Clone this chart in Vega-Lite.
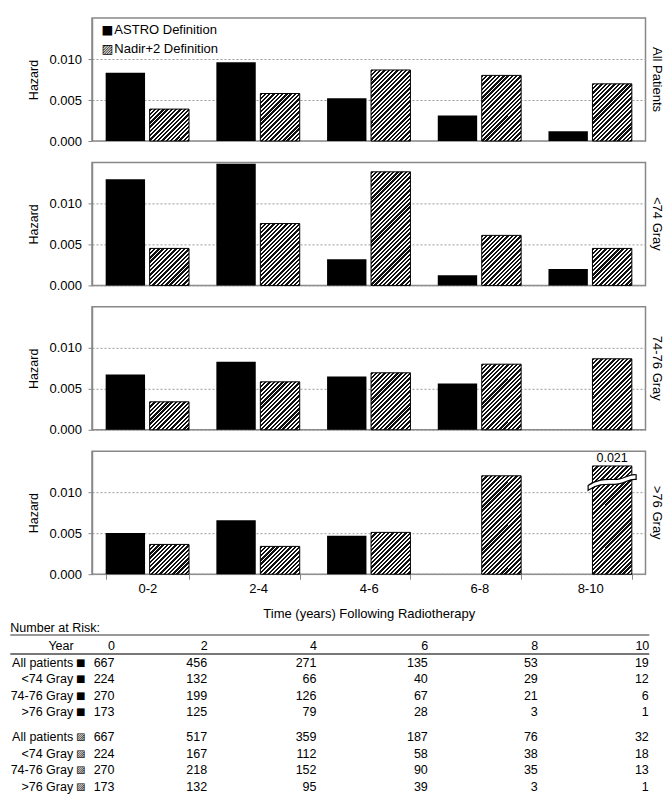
{
  "$schema": "https://vega.github.io/schema/vega-lite/v6.json",
  "padding": {"left": 9, "top": 17, "right": 5, "bottom": 0},
  "bounds": "flush",
  "spacing": 21.4,
  "params": [
    {"name": "hatch", "value": [
      {"offset":0,"color":"#111"},{"offset":0.01375,"color":"#111"},{"offset":0.01375,"color":"#fff"},{"offset":0.025,"color":"#fff"},
      {"offset":0.025,"color":"#111"},{"offset":0.03875,"color":"#111"},{"offset":0.03875,"color":"#fff"},{"offset":0.05,"color":"#fff"},
      {"offset":0.05,"color":"#111"},{"offset":0.06375,"color":"#111"},{"offset":0.06375,"color":"#fff"},{"offset":0.075,"color":"#fff"},
      {"offset":0.075,"color":"#111"},{"offset":0.08875,"color":"#111"},{"offset":0.08875,"color":"#fff"},{"offset":0.1,"color":"#fff"},
      {"offset":0.1,"color":"#111"},{"offset":0.11375,"color":"#111"},{"offset":0.11375,"color":"#fff"},{"offset":0.125,"color":"#fff"},
      {"offset":0.125,"color":"#111"},{"offset":0.13875,"color":"#111"},{"offset":0.13875,"color":"#fff"},{"offset":0.15,"color":"#fff"},
      {"offset":0.15,"color":"#111"},{"offset":0.16375,"color":"#111"},{"offset":0.16375,"color":"#fff"},{"offset":0.175,"color":"#fff"},
      {"offset":0.175,"color":"#111"},{"offset":0.18875,"color":"#111"},{"offset":0.18875,"color":"#fff"},{"offset":0.2,"color":"#fff"},
      {"offset":0.2,"color":"#111"},{"offset":0.21375,"color":"#111"},{"offset":0.21375,"color":"#fff"},{"offset":0.225,"color":"#fff"},
      {"offset":0.225,"color":"#111"},{"offset":0.23875,"color":"#111"},{"offset":0.23875,"color":"#fff"},{"offset":0.25,"color":"#fff"},
      {"offset":0.25,"color":"#111"},{"offset":0.26375,"color":"#111"},{"offset":0.26375,"color":"#fff"},{"offset":0.275,"color":"#fff"},
      {"offset":0.275,"color":"#111"},{"offset":0.28875,"color":"#111"},{"offset":0.28875,"color":"#fff"},{"offset":0.3,"color":"#fff"},
      {"offset":0.3,"color":"#111"},{"offset":0.31375,"color":"#111"},{"offset":0.31375,"color":"#fff"},{"offset":0.325,"color":"#fff"},
      {"offset":0.325,"color":"#111"},{"offset":0.33875,"color":"#111"},{"offset":0.33875,"color":"#fff"},{"offset":0.35,"color":"#fff"},
      {"offset":0.35,"color":"#111"},{"offset":0.36375,"color":"#111"},{"offset":0.36375,"color":"#fff"},{"offset":0.375,"color":"#fff"},
      {"offset":0.375,"color":"#111"},{"offset":0.38875,"color":"#111"},{"offset":0.38875,"color":"#fff"},{"offset":0.4,"color":"#fff"},
      {"offset":0.4,"color":"#111"},{"offset":0.41375,"color":"#111"},{"offset":0.41375,"color":"#fff"},{"offset":0.425,"color":"#fff"},
      {"offset":0.425,"color":"#111"},{"offset":0.43875,"color":"#111"},{"offset":0.43875,"color":"#fff"},{"offset":0.45,"color":"#fff"},
      {"offset":0.45,"color":"#111"},{"offset":0.46375,"color":"#111"},{"offset":0.46375,"color":"#fff"},{"offset":0.475,"color":"#fff"},
      {"offset":0.475,"color":"#111"},{"offset":0.48875,"color":"#111"},{"offset":0.48875,"color":"#fff"},{"offset":0.5,"color":"#fff"},
      {"offset":0.5,"color":"#111"},{"offset":0.51375,"color":"#111"},{"offset":0.51375,"color":"#fff"},{"offset":0.525,"color":"#fff"},
      {"offset":0.525,"color":"#111"},{"offset":0.53875,"color":"#111"},{"offset":0.53875,"color":"#fff"},{"offset":0.55,"color":"#fff"},
      {"offset":0.55,"color":"#111"},{"offset":0.56375,"color":"#111"},{"offset":0.56375,"color":"#fff"},{"offset":0.575,"color":"#fff"},
      {"offset":0.575,"color":"#111"},{"offset":0.58875,"color":"#111"},{"offset":0.58875,"color":"#fff"},{"offset":0.6,"color":"#fff"},
      {"offset":0.6,"color":"#111"},{"offset":0.61375,"color":"#111"},{"offset":0.61375,"color":"#fff"},{"offset":0.625,"color":"#fff"},
      {"offset":0.625,"color":"#111"},{"offset":0.63875,"color":"#111"},{"offset":0.63875,"color":"#fff"},{"offset":0.65,"color":"#fff"},
      {"offset":0.65,"color":"#111"},{"offset":0.66375,"color":"#111"},{"offset":0.66375,"color":"#fff"},{"offset":0.675,"color":"#fff"},
      {"offset":0.675,"color":"#111"},{"offset":0.68875,"color":"#111"},{"offset":0.68875,"color":"#fff"},{"offset":0.7,"color":"#fff"},
      {"offset":0.7,"color":"#111"},{"offset":0.71375,"color":"#111"},{"offset":0.71375,"color":"#fff"},{"offset":0.725,"color":"#fff"},
      {"offset":0.725,"color":"#111"},{"offset":0.73875,"color":"#111"},{"offset":0.73875,"color":"#fff"},{"offset":0.75,"color":"#fff"},
      {"offset":0.75,"color":"#111"},{"offset":0.76375,"color":"#111"},{"offset":0.76375,"color":"#fff"},{"offset":0.775,"color":"#fff"},
      {"offset":0.775,"color":"#111"},{"offset":0.78875,"color":"#111"},{"offset":0.78875,"color":"#fff"},{"offset":0.8,"color":"#fff"},
      {"offset":0.8,"color":"#111"},{"offset":0.81375,"color":"#111"},{"offset":0.81375,"color":"#fff"},{"offset":0.825,"color":"#fff"},
      {"offset":0.825,"color":"#111"},{"offset":0.83875,"color":"#111"},{"offset":0.83875,"color":"#fff"},{"offset":0.85,"color":"#fff"},
      {"offset":0.85,"color":"#111"},{"offset":0.86375,"color":"#111"},{"offset":0.86375,"color":"#fff"},{"offset":0.875,"color":"#fff"},
      {"offset":0.875,"color":"#111"},{"offset":0.88875,"color":"#111"},{"offset":0.88875,"color":"#fff"},{"offset":0.9,"color":"#fff"},
      {"offset":0.9,"color":"#111"},{"offset":0.91375,"color":"#111"},{"offset":0.91375,"color":"#fff"},{"offset":0.925,"color":"#fff"},
      {"offset":0.925,"color":"#111"},{"offset":0.93875,"color":"#111"},{"offset":0.93875,"color":"#fff"},{"offset":0.95,"color":"#fff"},
      {"offset":0.95,"color":"#111"},{"offset":0.96375,"color":"#111"},{"offset":0.96375,"color":"#fff"},{"offset":0.975,"color":"#fff"},
      {"offset":0.975,"color":"#111"},{"offset":0.98875,"color":"#111"},{"offset":0.98875,"color":"#fff"},{"offset":1,"color":"#fff"}
    ]}
  ],
  "datasets": {
    "hz": [
      {"group":"All Patients","period":"0-2","def":"ASTRO","hazard":0.00833},
      {"group":"All Patients","period":"0-2","def":"Nadir","hazard":0.00389},
      {"group":"All Patients","period":"2-4","def":"ASTRO","hazard":0.0096},
      {"group":"All Patients","period":"2-4","def":"Nadir","hazard":0.00579},
      {"group":"All Patients","period":"4-6","def":"ASTRO","hazard":0.00521},
      {"group":"All Patients","period":"4-6","def":"Nadir","hazard":0.00866},
      {"group":"All Patients","period":"6-8","def":"ASTRO","hazard":0.00312},
      {"group":"All Patients","period":"6-8","def":"Nadir","hazard":0.0080},
      {"group":"All Patients","period":"8-10","def":"ASTRO","hazard":0.00118},
      {"group":"All Patients","period":"8-10","def":"Nadir","hazard":0.00697},
      {"group":"<74 Gray","period":"0-2","def":"ASTRO","hazard":0.01295},
      {"group":"<74 Gray","period":"0-2","def":"Nadir","hazard":0.00451},
      {"group":"<74 Gray","period":"2-4","def":"ASTRO","hazard":0.01484},
      {"group":"<74 Gray","period":"2-4","def":"Nadir","hazard":0.00754},
      {"group":"<74 Gray","period":"4-6","def":"ASTRO","hazard":0.0032},
      {"group":"<74 Gray","period":"4-6","def":"Nadir","hazard":0.01385},
      {"group":"<74 Gray","period":"6-8","def":"ASTRO","hazard":0.00123},
      {"group":"<74 Gray","period":"6-8","def":"Nadir","hazard":0.0061},
      {"group":"<74 Gray","period":"8-10","def":"ASTRO","hazard":0.0020},
      {"group":"<74 Gray","period":"8-10","def":"Nadir","hazard":0.00451},
      {"group":"74-76 Gray","period":"0-2","def":"ASTRO","hazard":0.00674},
      {"group":"74-76 Gray","period":"0-2","def":"Nadir","hazard":0.00341},
      {"group":"74-76 Gray","period":"2-4","def":"ASTRO","hazard":0.00829},
      {"group":"74-76 Gray","period":"2-4","def":"Nadir","hazard":0.00585},
      {"group":"74-76 Gray","period":"4-6","def":"ASTRO","hazard":0.0065},
      {"group":"74-76 Gray","period":"4-6","def":"Nadir","hazard":0.00695},
      {"group":"74-76 Gray","period":"6-8","def":"ASTRO","hazard":0.00565},
      {"group":"74-76 Gray","period":"6-8","def":"Nadir","hazard":0.0080},
      {"group":"74-76 Gray","period":"8-10","def":"ASTRO","hazard":0},
      {"group":"74-76 Gray","period":"8-10","def":"Nadir","hazard":0.00866},
      {"group":">76 Gray","period":"0-2","def":"ASTRO","hazard":0.00502},
      {"group":">76 Gray","period":"0-2","def":"Nadir","hazard":0.00363},
      {"group":">76 Gray","period":"2-4","def":"ASTRO","hazard":0.00657},
      {"group":">76 Gray","period":"2-4","def":"Nadir","hazard":0.00339},
      {"group":">76 Gray","period":"4-6","def":"ASTRO","hazard":0.00469},
      {"group":">76 Gray","period":"4-6","def":"Nadir","hazard":0.0051},
      {"group":">76 Gray","period":"6-8","def":"ASTRO","hazard":0},
      {"group":">76 Gray","period":"6-8","def":"Nadir","hazard":0.0120},
      {"group":">76 Gray","period":"8-10","def":"ASTRO","hazard":0},
      {"group":">76 Gray","period":"8-10","def":"Nadir","hazard":0.021}
    ],
    "risk": [
      {"def":"ASTRO","group":"All patients","year":0,"n":667},{"def":"ASTRO","group":"All patients","year":2,"n":456},{"def":"ASTRO","group":"All patients","year":4,"n":271},{"def":"ASTRO","group":"All patients","year":6,"n":135},{"def":"ASTRO","group":"All patients","year":8,"n":53},{"def":"ASTRO","group":"All patients","year":10,"n":19},
      {"def":"ASTRO","group":"<74 Gray","year":0,"n":224},{"def":"ASTRO","group":"<74 Gray","year":2,"n":132},{"def":"ASTRO","group":"<74 Gray","year":4,"n":66},{"def":"ASTRO","group":"<74 Gray","year":6,"n":40},{"def":"ASTRO","group":"<74 Gray","year":8,"n":29},{"def":"ASTRO","group":"<74 Gray","year":10,"n":12},
      {"def":"ASTRO","group":"74-76 Gray","year":0,"n":270},{"def":"ASTRO","group":"74-76 Gray","year":2,"n":199},{"def":"ASTRO","group":"74-76 Gray","year":4,"n":126},{"def":"ASTRO","group":"74-76 Gray","year":6,"n":67},{"def":"ASTRO","group":"74-76 Gray","year":8,"n":21},{"def":"ASTRO","group":"74-76 Gray","year":10,"n":6},
      {"def":"ASTRO","group":">76 Gray","year":0,"n":173},{"def":"ASTRO","group":">76 Gray","year":2,"n":125},{"def":"ASTRO","group":">76 Gray","year":4,"n":79},{"def":"ASTRO","group":">76 Gray","year":6,"n":28},{"def":"ASTRO","group":">76 Gray","year":8,"n":3},{"def":"ASTRO","group":">76 Gray","year":10,"n":1},
      {"def":"Nadir","group":"All patients","year":0,"n":667},{"def":"Nadir","group":"All patients","year":2,"n":517},{"def":"Nadir","group":"All patients","year":4,"n":359},{"def":"Nadir","group":"All patients","year":6,"n":187},{"def":"Nadir","group":"All patients","year":8,"n":76},{"def":"Nadir","group":"All patients","year":10,"n":32},
      {"def":"Nadir","group":"<74 Gray","year":0,"n":224},{"def":"Nadir","group":"<74 Gray","year":2,"n":167},{"def":"Nadir","group":"<74 Gray","year":4,"n":112},{"def":"Nadir","group":"<74 Gray","year":6,"n":58},{"def":"Nadir","group":"<74 Gray","year":8,"n":38},{"def":"Nadir","group":"<74 Gray","year":10,"n":18},
      {"def":"Nadir","group":"74-76 Gray","year":0,"n":270},{"def":"Nadir","group":"74-76 Gray","year":2,"n":218},{"def":"Nadir","group":"74-76 Gray","year":4,"n":152},{"def":"Nadir","group":"74-76 Gray","year":6,"n":90},{"def":"Nadir","group":"74-76 Gray","year":8,"n":35},{"def":"Nadir","group":"74-76 Gray","year":10,"n":13},
      {"def":"Nadir","group":">76 Gray","year":0,"n":173},{"def":"Nadir","group":">76 Gray","year":2,"n":132},{"def":"Nadir","group":">76 Gray","year":4,"n":95},{"def":"Nadir","group":">76 Gray","year":6,"n":39},{"def":"Nadir","group":">76 Gray","year":8,"n":3},{"def":"Nadir","group":">76 Gray","year":10,"n":1}
    ]
  },
  "vconcat": [
    {
      "width": 553.5, "height": 123,
      "title": {"text": "All Patients"},
      "data": {"name": "hz"},
      "transform": [{"filter": "datum.group === 'All Patients'"}],
      "encoding": {
        "x": {"field": "period", "type": "nominal", "scale": {"domain": ["0-2","2-4","4-6","6-8","8-10"], "paddingInner": 0.247, "paddingOuter": 0.1235}, "axis": {"labels": false, "ticks": false, "title": null, "domain": false}},
        "xOffset": {"field": "def", "type": "nominal", "scale": {"domain": ["ASTRO","Nadir"], "paddingInner": 0.1045, "paddingOuter": 0}},
        "y": {"field": "hazard", "type": "quantitative", "stack": null, "scale": {"domain": [0, 0.015], "nice": false}, "axis": {"title": "Hazard", "values": [0, 0.005, 0.01], "format": ".3f", "tickSize": 4, "labelPadding": 6.5, "titlePadding": 8, "titleFontSize": 12.5, "grid": true, "gridDash": [2, 2], "gridColor": "#999"}}
      },
      "layer": [
        {"transform": [{"filter": "datum.def === 'ASTRO'"}], "mark": {"type": "bar", "fill": "#000"}},
        {"transform": [{"filter": "datum.def === 'Nadir' && datum.hazard <= 0.015"}], "mark": {"type": "bar", "stroke": "#000", "strokeWidth": 1, "fill": {"expr": "{gradient: 'linear', x1: 0, y1: 0, x2: 6776.8 / (1552.36 + pow(datum.hazard * 8200, 2)), y2: 1410400 * datum.hazard / (1552.36 + pow(datum.hazard * 8200, 2)), stops: hatch}"}}},
        {"transform": [{"filter": "datum.period === '0-2' && datum.def === 'ASTRO'"}], "mark": {"type": "text", "align": "center", "baseline": "middle", "font": "DejaVu Sans", "fontSize": 12.5, "dx": -18}, "encoding": {"y": {"datum": 0.01359, "type": "quantitative"}, "text": {"value": "■"}}},
        {"transform": [{"filter": "datum.period === '0-2' && datum.def === 'ASTRO'"}], "mark": {"type": "text", "align": "center", "baseline": "middle", "font": "DejaVu Sans", "fontSize": 12.5, "dx": -18}, "encoding": {"y": {"datum": 0.01127, "type": "quantitative"}, "text": {"value": "▨"}}},
        {"transform": [{"filter": "datum.period === '0-2' && datum.def === 'ASTRO'"}], "mark": {"type": "text", "align": "left", "baseline": "middle", "fontSize": 13, "dx": -11}, "encoding": {"y": {"datum": 0.01359, "type": "quantitative"}, "text": {"value": "ASTRO Definition"}}},
        {"transform": [{"filter": "datum.period === '0-2' && datum.def === 'ASTRO'"}], "mark": {"type": "text", "align": "left", "baseline": "middle", "fontSize": 13, "dx": -11}, "encoding": {"y": {"datum": 0.01127, "type": "quantitative"}, "text": {"value": "Nadir+2 Definition"}}}
      ]
    },
    {
      "width": 553.5, "height": 123,
      "title": {"text": "<74 Gray"},
      "data": {"name": "hz"},
      "transform": [{"filter": "datum.group === '<74 Gray'"}],
      "encoding": {
        "x": {"field": "period", "type": "nominal", "scale": {"domain": ["0-2","2-4","4-6","6-8","8-10"], "paddingInner": 0.247, "paddingOuter": 0.1235}, "axis": {"labels": false, "ticks": false, "title": null, "domain": false}},
        "xOffset": {"field": "def", "type": "nominal", "scale": {"domain": ["ASTRO","Nadir"], "paddingInner": 0.1045, "paddingOuter": 0}},
        "y": {"field": "hazard", "type": "quantitative", "stack": null, "scale": {"domain": [0, 0.015], "nice": false}, "axis": {"title": "Hazard", "values": [0, 0.005, 0.01], "format": ".3f", "tickSize": 4, "labelPadding": 6.5, "titlePadding": 8, "titleFontSize": 12.5, "grid": true, "gridDash": [2, 2], "gridColor": "#999"}}
      },
      "layer": [
        {"transform": [{"filter": "datum.def === 'ASTRO'"}], "mark": {"type": "bar", "fill": "#000"}},
        {"transform": [{"filter": "datum.def === 'Nadir' && datum.hazard <= 0.015"}], "mark": {"type": "bar", "stroke": "#000", "strokeWidth": 1, "fill": {"expr": "{gradient: 'linear', x1: 0, y1: 0, x2: 6776.8 / (1552.36 + pow(datum.hazard * 8200, 2)), y2: 1410400 * datum.hazard / (1552.36 + pow(datum.hazard * 8200, 2)), stops: hatch}"}}}
      ]
    },
    {
      "width": 553.5, "height": 123,
      "title": {"text": "74-76 Gray"},
      "data": {"name": "hz"},
      "transform": [{"filter": "datum.group === '74-76 Gray'"}],
      "encoding": {
        "x": {"field": "period", "type": "nominal", "scale": {"domain": ["0-2","2-4","4-6","6-8","8-10"], "paddingInner": 0.247, "paddingOuter": 0.1235}, "axis": {"labels": false, "ticks": false, "title": null, "domain": false}},
        "xOffset": {"field": "def", "type": "nominal", "scale": {"domain": ["ASTRO","Nadir"], "paddingInner": 0.1045, "paddingOuter": 0}},
        "y": {"field": "hazard", "type": "quantitative", "stack": null, "scale": {"domain": [0, 0.015], "nice": false}, "axis": {"title": "Hazard", "values": [0, 0.005, 0.01], "format": ".3f", "tickSize": 4, "labelPadding": 6.5, "titlePadding": 8, "titleFontSize": 12.5, "grid": true, "gridDash": [2, 2], "gridColor": "#999"}}
      },
      "layer": [
        {"transform": [{"filter": "datum.def === 'ASTRO'"}], "mark": {"type": "bar", "fill": "#000"}},
        {"transform": [{"filter": "datum.def === 'Nadir' && datum.hazard <= 0.015"}], "mark": {"type": "bar", "stroke": "#000", "strokeWidth": 1, "fill": {"expr": "{gradient: 'linear', x1: 0, y1: 0, x2: 6776.8 / (1552.36 + pow(datum.hazard * 8200, 2)), y2: 1410400 * datum.hazard / (1552.36 + pow(datum.hazard * 8200, 2)), stops: hatch}"}}}
      ]
    },
    {
      "width": 553.5, "height": 123,
      "title": {"text": ">76 Gray"},
      "data": {"name": "hz"},
      "transform": [{"filter": "datum.group === '>76 Gray'"}],
      "encoding": {
        "x": {"field": "period", "type": "nominal", "scale": {"domain": ["0-2","2-4","4-6","6-8","8-10"], "paddingInner": 0.247, "paddingOuter": 0.1235}, "axis": {"title": "Time (years) Following Radiotherapy", "labelAngle": 0, "tickBand": "extent", "tickSize": 5, "labelPadding": 3, "titlePadding": 12, "domain": false}},
        "xOffset": {"field": "def", "type": "nominal", "scale": {"domain": ["ASTRO","Nadir"], "paddingInner": 0.1045, "paddingOuter": 0}},
        "y": {"field": "hazard", "type": "quantitative", "stack": null, "scale": {"domain": [0, 0.015], "nice": false}, "axis": {"title": "Hazard", "values": [0, 0.005, 0.01], "format": ".3f", "tickSize": 4, "labelPadding": 6.5, "titlePadding": 8, "titleFontSize": 12.5, "grid": true, "gridDash": [2, 2], "gridColor": "#999"}}
      },
      "layer": [
        {"transform": [{"filter": "datum.def === 'ASTRO'"}], "mark": {"type": "bar", "fill": "#000"}},
        {"transform": [{"filter": "datum.def === 'Nadir' && datum.hazard <= 0.015"}], "mark": {"type": "bar", "stroke": "#000", "strokeWidth": 1, "fill": {"expr": "{gradient: 'linear', x1: 0, y1: 0, x2: 6776.8 / (1552.36 + pow(datum.hazard * 8200, 2)), y2: 1410400 * datum.hazard / (1552.36 + pow(datum.hazard * 8200, 2)), stops: hatch}"}}},
        {"transform": [{"filter": "datum.hazard > 0.015"}], "mark": {"type": "bar", "stroke": "#000", "strokeWidth": 1, "fill": {"expr": "{gradient: 'linear', x1: 0, y1: 0, x2: 0.5108, y2: 1.4031, stops: hatch}"}}, "encoding": {"y": {"datum": 0.0132, "type": "quantitative"}, "y2": {"datum": 0}}},
        {"transform": [{"filter": "datum.hazard > 0.015"}], "mark": {"type": "point", "shape": "M -1 0.2 C -0.6 -0.1 -0.2 -0.05 0.1 -0.05 C 0.5 -0.05 0.7 -0.3 1 -0.25 L 1 -0.05 C 0.7 -0.1 0.5 0.15 0.1 0.15 C -0.2 0.15 -0.6 0.1 -1 0.4 Z", "size": 2304, "filled": true, "fill": "#fff", "stroke": "#000", "strokeWidth": 1.2, "opacity": 1}, "encoding": {"y": {"datum": 0.0114, "type": "quantitative"}}},
        {"transform": [{"filter": "datum.hazard > 0.015"}], "mark": {"type": "text", "baseline": "middle", "fontSize": 12.5, "dy": -8}, "encoding": {"y": {"datum": 0.0132, "type": "quantitative"}, "text": {"field": "hazard", "type": "quantitative", "format": ".3f"}}}
      ]
    },
    {
      "width": 553.5, "height": 199.3,
      "view": {"stroke": null},
      "data": {"name": "risk"},
      "resolve": {"axis": {"x": "independent"}},
      "encoding": {
        "y": {"field": "def", "type": "nominal", "scale": {"type": "band", "domain": ["ASTRO","Nadir"], "paddingInner": 0.119, "paddingOuter": 0.3936, "align": 1}, "axis": null},
        "yOffset": {"field": "group", "type": "nominal", "scale": {"type": "band", "domain": ["All patients","<74 Gray","74-76 Gray",">76 Gray"], "range": [0, 65.8], "paddingInner": 0, "paddingOuter": 0}}
      },
      "layer": [
        {
          "mark": {"type": "text", "align": "right", "baseline": "middle", "fontSize": 12.5},
          "encoding": {
            "x": {"field": "year", "type": "quantitative", "scale": {"domain": [-2,-1,0,2,4,6,8,10], "range": [-82.2,-18.8,22.5,115.2,224.5,335.8,445.8,556.8], "nice": false, "zero": false}, "axis": {"orient": "top", "values": [-1,0,2,4,6,8,10], "labelExpr": "datum.value === -1 ? 'Year' : datum.label", "labelAlign": "right", "labelBaseline": "middle", "ticks": false, "tickSize": 0, "labelPadding": 8.3, "offset": -58, "domainColor": "#777", "domainWidth": 2, "grid": false, "title": null, "labelFontSize": 12.5, "labelFlush": false, "labelOverlap": false}},
            "text": {"field": "n", "type": "quantitative"}
          }
        },
        {
          "transform": [{"filter": "datum.year === 0"}],
          "mark": {"type": "text", "align": "right", "baseline": "middle", "fontSize": 12.5},
          "encoding": {
            "x": {"datum": -1, "type": "quantitative", "axis": {"orient": "top", "labels": false, "ticks": false, "tickSize": 0, "grid": false, "offset": -39, "domainColor": "#777", "domainWidth": 1.5, "title": "Number at Risk:", "titleAnchor": "start", "titleAlign": "left", "titlePadding": 0, "titleFontSize": 12.5, "titleFontWeight": "normal"}},
            "text": {"field": "group", "type": "nominal"}
          }
        },
        {
          "transform": [{"filter": "datum.year === 0"}],
          "mark": {"type": "text", "align": "center", "baseline": "middle", "font": "DejaVu Sans", "fontSize": 10, "dx": 7.6},
          "encoding": {
            "x": {"datum": -1, "type": "quantitative", "axis": null},
            "text": {"condition": {"test": "datum.def === 'ASTRO'", "value": "■"}, "value": "▨"}
          }
        }
      ]
    }
  ],
  "config": {
    "font": "Liberation Sans",
    "view": {"stroke": "#888", "strokeWidth": 1.5},
    "axis": {"domainColor": "#888", "tickColor": "#888", "labelColor": "#000", "titleColor": "#000", "labelFontSize": 13, "titleFontSize": 13, "titleFontWeight": "normal", "domainWidth": 1.5},
    "title": {"fontSize": 13, "fontWeight": "normal", "orient": "right", "offset": 4, "color": "#000"},
    "text": {"color": "#000"}
  }
}
